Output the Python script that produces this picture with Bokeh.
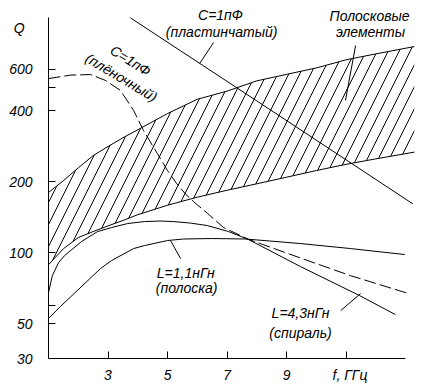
from bokeh.plotting import figure
from bokeh.models import FixedTicker, Label, Range1d, LogAxis
from bokeh.embed import file_html
from bokeh.resources import INLINE

FONT = "Liberation Sans"

# ---------------- data (f in GHz, Q dimensionless) ----------------
# strip elements band (hatched region)
f_band = [1.0, 1.5, 2.0, 2.5, 3.0, 3.5, 4.0, 5.0, 6.0, 7.0, 8.0, 9.0, 10.0, 11.0, 12.0, 13.3]
q_band_upper = [180, 202, 229, 258, 282, 307, 332, 389, 447, 484, 535, 570, 607, 657, 696, 748]
q_band_lower = [89, 104, 116, 123, 130, 137, 145, 159, 172, 184, 196, 209, 223, 237, 250, 267]

# C = 1 pF, plate capacitor
f_plate = [3.75, 8.0, 13.25]
q_plate = [990, 440, 161]

# C = 1 pF, film capacitor (dashed)
f_film = [1.0, 1.74, 2.41, 2.92, 3.42, 3.86, 4.19, 4.66, 5.0, 5.30, 5.61, 5.94, 6.34, 6.88, 7.72, 9.47, 11.15, 13.13]
q_film = [547, 566, 569, 537, 487, 401, 330, 263, 223, 197, 177, 162, 147, 128, 114, 95, 80, 67]

# L = 1.1 nH, strip inductor
f_strip = [1.0, 1.40, 1.97, 2.75, 3.12, 3.86, 4.23, 5.0, 5.54, 6.51, 7.62, 9.47, 11.15, 12.97]
q_strip = [52.6, 59.2, 69.2, 85.8, 92.7, 104.2, 107.3, 112.7, 114.4, 114.9, 114.4, 109.4, 104.2, 98.3]

# L = 4.3 nH, spiral inductor
f_spiral = [1.0, 1.13, 1.34, 1.54, 2.11, 2.65, 3.12, 3.66, 4.23, 4.76, 5.20, 5.77, 6.34, 7.05, 7.72, 9.47, 11.45, 12.66]
q_spiral = [67.8, 80.1, 90.9, 97.3, 111.6, 123.0, 127.9, 133.0, 135.6, 136.3, 135.6, 133.6, 130.4, 123.0, 113.8, 87.4, 65.9, 54.7]

# axes
Q_MIN, Q_AXIS_TOP, Q_VIEW_TOP = 35.65, 993, 1127
x_ticks = [3, 5, 7, 9, 11]
x_tick_labels = {3: "3", 5: "5", 7: "7", 9: "9", 11: "\u00a0\u00a0f, ГГц"}
y_tick_marks = [50, 60, 100, 200, 400, 500, 600]
y_label_ticks = [Q_MIN, 50, 100, 200, 400, 600, 900]
y_tick_labels = {Q_MIN: "30", 50: "50", 100: "100", 200: "200", 400: "400", 600: "600",
                 900: "Q\u00a0\u00a0"}

# annotation texts (text, f, Q, angle)
texts = [
    ("C=1пФ", 6.78, 1022, 0.0),
    ("(пластинчатый)", 6.82, 858, 0.0),
    ("Полосковые", 11.79, 1012, 0.0),
    ("элементы", 11.82, 858, 0.0),
    ("C=1пФ", 3.76, 652, -0.56),
    ("(плёночный)", 3.45, 553, -0.54),
    ("L=1,1нГн", 5.61, 81.7, 0.0),
    ("(полоска)", 5.64, 70.6, 0.0),
    ("L=4,3нГн", 9.47, 55.3, 0.0),
    ("(спираль)", 9.47, 45.9, 0.0),
]
# leader lines (f0, Q0, f1, Q1)
lead_f0 = [6.55, 11.32, 5.10, 11.49]
lead_q0 = [778, 755, 112.7, 67.2]
lead_f1 = [6.08, 10.98, 5.44, 10.82]
lead_q1 = [634, 442, 94.5, 56.9]

# ---------------- figure ----------------
p = figure(
    title=None,
    width=422, height=388,
    x_range=Range1d(1, 13.3), y_range=Range1d(Q_MIN, Q_VIEW_TOP),
    y_axis_type="log",
    output_backend="svg", toolbar_location=None,
    min_border_left=48, min_border_top=4, min_border_right=8, min_border_bottom=30,
)
p.outline_line_color = None
p.xgrid.visible = False
p.ygrid.visible = False
p.background_fill_color = "white"
p.border_fill_color = "white"

# x axis
xa = p.xaxis[0]
xa.ticker = FixedTicker(ticks=x_ticks, minor_ticks=[])
xa.major_label_overrides = x_tick_labels
xa.bounds = (1, 13)
xa.major_label_standoff = 8

# y axis: line + tick marks (inner)
ya = p.yaxis[0]
ya.ticker = FixedTicker(ticks=y_tick_marks, minor_ticks=[])
ya.major_label_overrides = {t: "" for t in y_tick_marks}
ya.major_label_standoff = 0
ya.bounds = (Q_MIN, Q_AXIS_TOP)

# y axis labels (outer, no line, no marks)
yl = LogAxis(ticker=FixedTicker(ticks=y_label_ticks, minor_ticks=[]),
             major_label_overrides=y_tick_labels, axis_line_color=None,
             major_tick_line_color=None, major_tick_in=0, major_tick_out=0,
             minor_tick_in=0, minor_tick_out=0, major_label_standoff=16)
p.add_layout(yl, "left")

for ax in (xa, ya, yl):
    ax.minor_tick_in = 0
    ax.minor_tick_out = 0
    ax.major_label_text_font = FONT
    ax.major_label_text_font_style = "italic"
    ax.major_label_text_font_size = "14px"
    ax.major_label_text_color = "black"
for ax in (xa, ya):
    ax.major_tick_in = 7
    ax.major_tick_out = 0
    ax.axis_line_color = "black"
    ax.axis_line_width = 1
    ax.major_tick_line_color = "black"

# hatched band
p.varea(x=f_band, y1=q_band_lower, y2=q_band_upper, fill_color=None,
        hatch_pattern="/", hatch_scale=22, hatch_color="black", hatch_weight=1)
p.line(f_band, q_band_upper, line_color="black", line_width=1)
p.line(f_band, q_band_lower, line_color="black", line_width=1)

p.line(f_plate, q_plate, line_color="black", line_width=1)
p.line(f_film, q_film, line_color="black", line_width=1, line_dash="12 4")
p.line(f_strip, q_strip, line_color="black", line_width=1)
p.line(f_spiral, q_spiral, line_color="black", line_width=1)

p.segment(x0=lead_f0, y0=lead_q0, x1=lead_f1, y1=lead_q1, line_color="black", line_width=1)

for t, fx, qy, ang in texts:
    p.add_layout(Label(x=fx, y=qy, text=t, angle=ang, text_font=FONT,
                       text_font_style="italic", text_font_size="14px",
                       text_color="black", text_align="center", text_baseline="middle"))

open("out.html", "w").write(file_html(p, INLINE))
